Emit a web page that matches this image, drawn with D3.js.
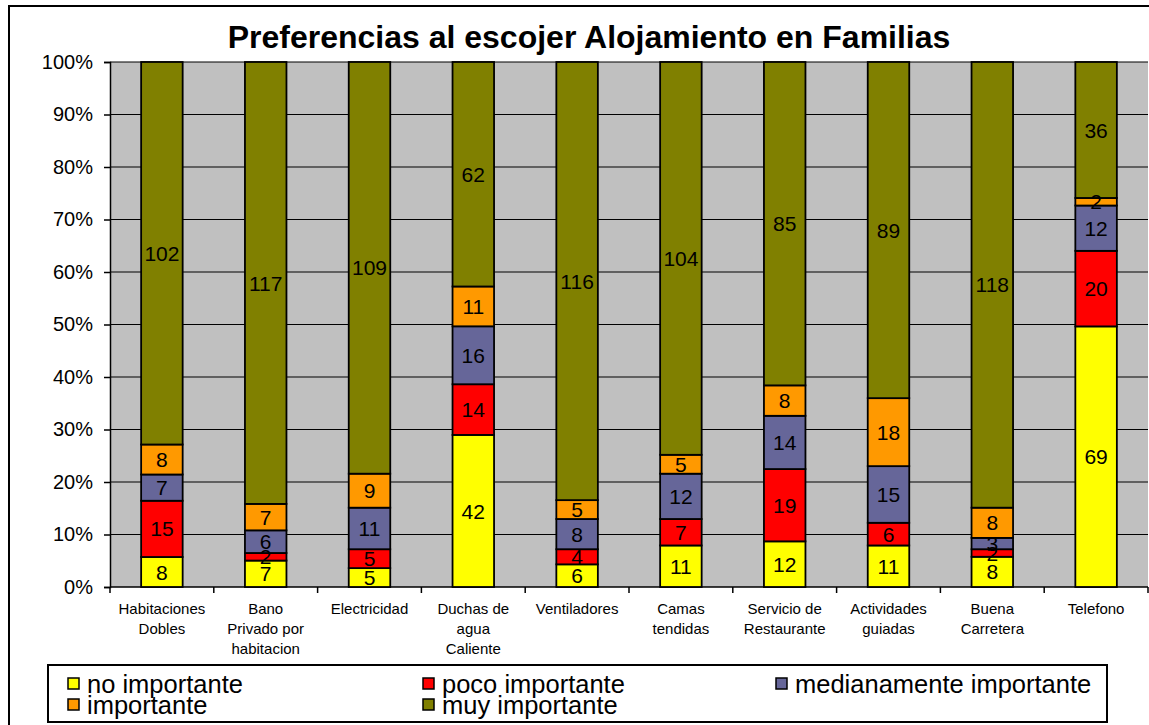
<!DOCTYPE html>
<html>
<head>
<meta charset="utf-8">
<script src="https://cdnjs.cloudflare.com/ajax/libs/d3/7.8.5/d3.min.js"></script>
<style>
  body { margin: 0; background: #fff; }
  svg text { font-family: Arial, "Liberation Sans", sans-serif; }
</style>
</head>
<body>
<div id="chart"></div>
<script>
// categories, shown as multi-line labels under the axis
var categories = [
  ["Habitaciones", "Dobles"],
  ["Bano", "Privado por", "habitacion"],
  ["Electricidad"],
  ["Duchas de", "agua", "Caliente"],
  ["Ventiladores"],
  ["Camas", "tendidas"],
  ["Servicio de", "Restaurante"],
  ["Actividades", "guiadas"],
  ["Buena", "Carretera"],
  ["Telefono"]
];
var seriesNames = ["no importante", "poco importante", "medianamente importante", "importante", "muy importante"];
var seriesColors = ["#FFFF00", "#FF0000", "#666699", "#FF9900", "#808000"];

var noImportante    = [8, 7, 5, 42, 6, 11, 12, 11, 8, 69];
var pocoImportante  = [15, 2, 5, 14, 4, 7, 19, 6, 2, 20];
var medianamente    = [7, 6, 11, 16, 8, 12, 14, 15, 3, 12];
var importante      = [8, 7, 9, 11, 5, 5, 8, 18, 8, 2];
var muyImportante   = [102, 117, 109, 62, 116, 104, 85, 89, 118, 36];

var yTicks = [0, 0.1, 0.2, 0.3, 0.4, 0.5, 0.6, 0.7, 0.8, 0.9, 1];

var W = 1149, H = 725;
var plot = { left: 110, right: 1148, top: 62, bottom: 587 };

var svg = d3.select('#chart').append('svg')
  .attr('width', W).attr('height', H);

// outer chart frame (cut off on the right and bottom like the original)
svg.append('rect')
  .attr('x', 9).attr('y', 6)
  .attr('width', W + 20).attr('height', H + 20)
  .attr('fill', '#fff').attr('stroke', '#000').attr('stroke-width', 2);

svg.append('text')
  .attr('x', 589).attr('y', 48)
  .attr('text-anchor', 'middle')
  .style('font-size', '32px').style('font-weight', 'bold')
  .text('Preferencias al escojer Alojamiento en Familias');

var keys = categories.map(function(c) { return c.join(' '); });

var rows = keys.map(function(k, i) {
  var vals = [noImportante[i], pocoImportante[i], medianamente[i], importante[i], muyImportante[i]];
  var total = d3.sum(vals);
  var r = { key: k, lines: categories[i] };
  vals.forEach(function(v, j) { r[seriesNames[j]] = v / total; r['n' + j] = v; });
  return r;
});

var xCat = d3.scaleBand().domain(keys).range([plot.left, plot.right]).padding(0);
var x = d3.scaleBand().domain(keys).range([plot.left, plot.right])
  .paddingInner(0.6).paddingOuter(0.3);
var y = d3.scaleLinear().domain([0, 1]).range([plot.bottom, plot.top]);

// plot background
svg.append('rect')
  .attr('x', plot.left).attr('y', plot.top)
  .attr('width', plot.right - plot.left).attr('height', plot.bottom - plot.top)
  .attr('fill', '#C0C0C0');

// gridlines
svg.append('g').selectAll('line')
  .data(yTicks.slice(1))
  .enter().append('line')
  .attr('x1', plot.left).attr('x2', plot.right)
  .attr('y1', function(d) { return y(d); }).attr('y2', function(d) { return y(d); })
  .attr('stroke', '#000').attr('stroke-width', 1.2);

// y axis
var yAxis = svg.append('g')
  .attr('transform', 'translate(' + plot.left + ',0)')
  .call(d3.axisLeft(y).tickValues(yTicks).tickFormat(d3.format('.0%')).tickSizeOuter(0).tickSize(6).tickPadding(11));
yAxis.selectAll('text').style('font-size', '20px').attr('fill', '#000');
yAxis.selectAll('line, path').attr('stroke', '#000').attr('stroke-width', 1.5);

// x axis line + ticks at category boundaries
var xAxis = svg.append('g').attr('transform', 'translate(0,' + plot.bottom + ')');
xAxis.append('line')
  .attr('x1', plot.left).attr('x2', plot.right)
  .attr('stroke', '#000').attr('stroke-width', 1.5);
xAxis.selectAll('line.tk')
  .data(keys.concat(['end']))
  .enter().append('line').attr('class', 'tk')
  .attr('x1', function(d, i) { return i < keys.length ? xCat(d) : plot.right; })
  .attr('x2', function(d, i) { return i < keys.length ? xCat(d) : plot.right; })
  .attr('y1', 0).attr('y2', 6)
  .attr('stroke', '#000').attr('stroke-width', 1.5);

var xl = xAxis.selectAll('text.cat')
  .data(rows)
  .enter().append('text').attr('class', 'cat')
  .attr('text-anchor', 'middle')
  .style('font-size', '15px')
  .attr('transform', function(d) { return 'translate(' + (xCat(d.key) + xCat.bandwidth() / 2) + ',27)'; });
xl.selectAll('tspan')
  .data(function(d) { return d.lines; })
  .enter().append('tspan')
  .attr('x', 0).attr('dy', function(d, i) { return i === 0 ? 0 : 20; })
  .text(function(d) { return d; });

// stacked bars
var stack = d3.stack().keys(seriesNames);
var layers = stack(rows);

var layer = svg.append('g').selectAll('g')
  .data(layers)
  .enter().append('g')
  .attr('fill', function(d, i) { return seriesColors[i]; });

layer.selectAll('rect')
  .data(function(d) { return d; })
  .enter().append('rect')
  .attr('x', function(d) { return x(d.data.key); })
  .attr('width', x.bandwidth())
  .attr('y', function(d) { return y(d[1]); })
  .attr('height', function(d) { return y(d[0]) - y(d[1]); })
  .attr('stroke', '#000').attr('stroke-width', 1.8);

// data labels
layers.forEach(function(L, j) {
  svg.append('g').selectAll('text')
    .data(L)
    .enter().append('text')
    .attr('x', function(d) { return x(d.data.key) + x.bandwidth() / 2; })
    .attr('y', function(d) { return (y(d[0]) + y(d[1])) / 2; })
    .attr('dy', '0.36em')
    .attr('text-anchor', 'middle')
    .style('font-size', '21px')
    .attr('fill', '#000')
    .text(function(d) { return d.data['n' + j]; });
});

// legend
var lg = svg.append('g');
lg.append('rect')
  .attr('x', 48).attr('y', 665).attr('width', 1059).attr('height', 57)
  .attr('fill', '#fff').attr('stroke', '#000').attr('stroke-width', 2);
var legendPos = [[68, 684], [423, 684], [776, 684], [68, 705], [423, 705]];
var li = lg.selectAll('g.item')
  .data(seriesNames)
  .enter().append('g').attr('class', 'item')
  .attr('transform', function(d, i) { return 'translate(' + legendPos[i][0] + ',' + legendPos[i][1] + ')'; });
li.append('rect')
  .attr('x', 0).attr('y', -6).attr('width', 11).attr('height', 11)
  .attr('fill', function(d, i) { return seriesColors[i]; })
  .attr('stroke', '#000').attr('stroke-width', 1.5);
li.append('text')
  .attr('x', 19).attr('y', 0).attr('dy', '0.36em')
  .style('font-size', '25.5px')
  .text(function(d) { return d; });
</script>
</body>
</html>
